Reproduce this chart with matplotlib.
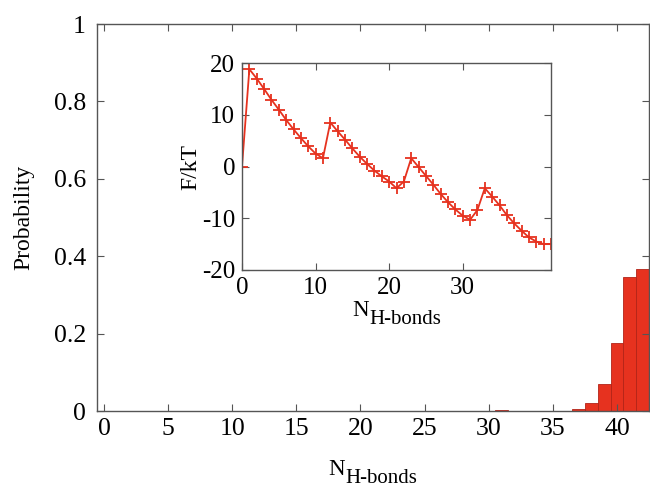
import matplotlib
matplotlib.use("Agg")
import matplotlib.pyplot as plt

plt.rcParams["font.family"] = ["Liberation Serif", "DejaVu Serif"]
plt.rcParams["axes.unicode_minus"] = False

# Probability distribution of the number of hydrogen bonds
n_hbonds = [31, 37, 38, 39, 40, 41, 42]
probability = [0.002, 0.004, 0.021, 0.070, 0.177, 0.345, 0.366]

# Free energy profile F/kT vs number of hydrogen bonds
free_n = list(range(43))
free_energy = [0.0, 18.8, 17.0, 15.0, 12.9, 11.0, 9.0, 7.2, 5.5, 3.9, 2.5,
               1.6, 8.5, 6.8, 5.2, 3.5, 1.9, 0.5, -0.8, -1.9, -2.9, -4.2,
               -2.9, 1.6, -0.1, -1.8, -3.5, -5.3, -6.9, -8.3, -9.5, -10.3,
               -8.4, -4.2, -5.8, -7.5, -9.4, -11.0, -12.4, -13.7, -14.5,
               -15.0, -15.0]

main_xticks = [0, 5, 10, 15, 20, 25, 30, 35, 40]
main_yticks = [0, 0.2, 0.4, 0.6, 0.8, 1.0]
main_ylabels = ["0", "0.2", "0.4", "0.6", "0.8", "1"]
inset_xticks = [0, 10, 20, 30]
inset_yticks = [-20, -10, 0, 10, 20]

red = "#e6321f"
spine = "#555555"
W, H = 650, 487
fig = plt.figure(figsize=(W / 100, H / 100), dpi=100)


def frac(l, t, r, b):
    return [l / W, 1 - b / H, (r - l) / W, (b - t) / H]


def style(ax, size):
    for s in ax.spines.values():
        s.set_color(spine)
        s.set_linewidth(1.0)
    ax.tick_params(direction="in", top=True, right=True, length=5,
                   width=0.8, color=spine, labelsize=size, pad=5)


def n_hbonds_label(x, y):
    """Write N with an 'H-bonds' subscript, left edge x and baseline y in pixels."""
    fig.text(x / W, 1 - y / H, "N", fontsize=16.5, ha="left", va="baseline")
    fig.text((x + 17) / W, 1 - (y + 8) / H, "H-bonds", fontsize=15,
             ha="left", va="baseline")


ax = fig.add_axes(frac(97, 24, 649, 411))
ax.bar(n_hbonds, probability, width=1.0, color=red, edgecolor="#b22418",
       linewidth=0.6)
ax.set_xlim(-0.55, 42.5)
ax.set_ylim(0, 1)
ax.set_xticks(main_xticks)
ax.set_yticks(main_yticks)
ax.set_yticklabels(main_ylabels)
style(ax, 18.5)
ax.tick_params(axis="y", pad=8)
ax.set_ylabel("Probability", fontsize=17, labelpad=14)
n_hbonds_label(328, 475)

ins = fig.add_axes(frac(242, 63, 551, 270))
ins.plot(free_n, free_energy, color=red, linewidth=1.3,
         marker="+", markersize=9, markeredgewidth=1.3)
ins.set_xlim(0, 42)
ins.set_ylim(-20, 20)
ins.set_xticks(inset_xticks)
ins.set_yticks(inset_yticks)
style(ins, 18)
ins.set_ylabel("F/kT", fontsize=17, labelpad=0)
n_hbonds_label(352, 316)

fig.savefig("out.png", dpi=100)
